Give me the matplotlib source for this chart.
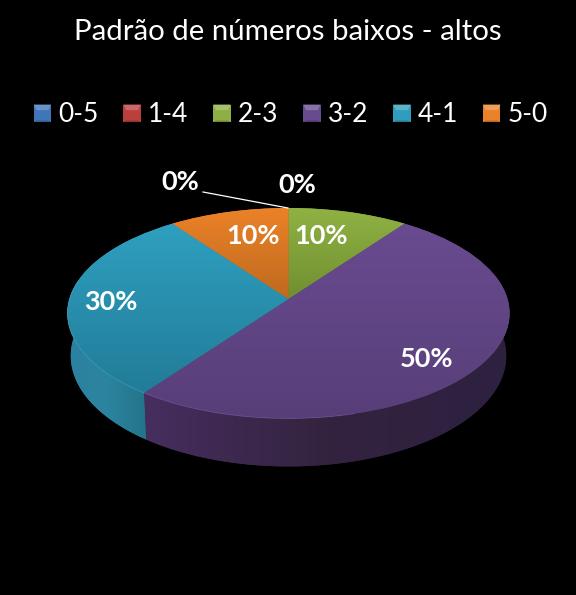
import numpy as np
import matplotlib
matplotlib.use("Agg")
import matplotlib.pyplot as plt
from matplotlib.transforms import Transform
from matplotlib.patches import Rectangle, Polygon, Patch
from matplotlib.legend_handler import HandlerBase
from matplotlib.colors import to_rgb

TITLE = "Padrão de números baixos - altos"
categories = ["0-5", "1-4", "2-3", "3-2", "4-1", "5-0"]
values = [0, 0, 10, 50, 30, 10]
colors = ["#3f76b8", "#bb3f3c", "#8fae44", "#674a8f", "#2f9dbb", "#e9822b"]

# vertical gradient of each top face (top, bottom), horizontal gradient of each side (left, mid, right)
top_grad = {2: ("#90b243", "#6f8f30"), 3: ("#694b90", "#573e78"),
            4: ("#2fa0c0", "#217c98"), 5: ("#ec8228", "#bd6a1f")}
wall_grad = {3: ("#472e5f", "#33233f", "#2d2140"), 4: ("#2b82a0", "#2b84a0", "#237388")}
label_pos = [(180, 182), (297, 185), (321, 236), (427, 359), (111, 302), (253, 236)]

FONT = "Lato"
plt.rcParams["font.family"] = FONT

fig = plt.figure(figsize=(5.76, 5.95), dpi=100, facecolor="black")
ax = fig.add_axes([0, 0, 1, 1])


class Persp(Transform):
    input_dims = output_dims = 2
    is_affine = False

    def __init__(self, level=0.0):
        super().__init__()
        self.level = level

    def transform_non_affine(self, xy):
        xy = np.asarray(xy, float)
        s = self.level
        k = 0.1353
        d = 1 + k * xy[:, 1]
        px = 288.5 + 219 * (1 - 0.015 * s) * xy[:, 0] / d
        py = (299 + 42 * s) - 103.3 * (1 + 0.05 * s) * xy[:, 1] / d
        return np.column_stack([px, py])


wedges, _ = ax.pie(values, colors=colors, startangle=90, counterclock=False,
                   wedgeprops=dict(linewidth=0))
ax.set_aspect("auto")

top_tf = Persp(0.0)
bot_tf = Persp(1.0)

# side walls, using the boundary angle between the wedges
front = wedges[4].theta2 % 360
wall_span = {3: (front, 375), 4: (140, front)}
for i, (lo, hi) in wall_span.items():
    t = np.radians(np.linspace(lo, hi, 120))
    u = np.column_stack([np.cos(t), np.sin(t)])
    verts = np.vstack([top_tf.transform_non_affine(u),
                       bot_tf.transform_non_affine(u)[::-1]])
    poly = Polygon(verts, closed=True, facecolor=wall_grad[i][1], edgecolor="none", zorder=1)
    ax.add_patch(poly)
    x0, x1 = verts[:, 0].min(), verts[:, 0].max()
    st = [to_rgb(c) for c in wall_grad[i]]
    g = np.array([[np.interp(p, [0, .5, 1], [c[j] for c in st]) for j in range(3)]
                  for p in np.linspace(0, 1, 200)])[None, :, :]
    g = np.tile(g, (8, 1, 1))
    im = ax.imshow(g, extent=(x0 - 2, x1 + 2, 500, 260), aspect="auto", zorder=1.5,
                   interpolation="nearest")
    im.set_clip_path(poly)

# top faces with vertical gradient
for i, w in enumerate(wedges):
    w.set_transform(top_tf + ax.transData)
    w.set_zorder(2)
    if i in top_grad:
        c0, c1 = map(to_rgb, top_grad[i])
        p = np.linspace(0, 1, 200)[:, None]
        g = (np.array(c0) * (1 - p) + np.array(c1) * p)[:, None, :]
        g = np.tile(g, (1, 8, 1))
        vy = w.get_transform().transform_path(w.get_path()).vertices
        inv = ax.transData.inverted().transform(vy)
        y0, y1 = inv[:, 1].min(), inv[:, 1].max()
        im = ax.imshow(g, extent=(40, 540, y1 + 1, y0 - 1), aspect="auto", zorder=2.5,
                       interpolation="nearest")
        im.set_clip_path(w)

# faint light rim along the front edge of the blue and purple faces
for rng, col in [((170, front), "#52b3cf"), ((front, 285), "#8a6cb3")]:
    t = np.radians(np.linspace(*rng, 80))
    rim = top_tf.transform_non_affine(np.column_stack([np.cos(t), np.sin(t)]))
    ax.plot(rim[:, 0], rim[:, 1], color=col, lw=0.6, alpha=0.45, zorder=3)

# leader line
ax.plot([203, 288], [192, 208], color="white", lw=0.9, zorder=4)

for v, (x, y) in zip(values, label_pos):
    ax.text(x, y, f"{v}%", color="white", fontsize=19.5, fontweight="bold",
            ha="center", va="center", zorder=5)

ax.text(288, 32, TITLE, color="white", fontsize=21.2, ha="center", va="center")


class BevelHandler(HandlerBase):
    def create_artists(self, legend, orig, xd, yd, width, height, fontsize, trans):
        c = np.array(to_rgb(orig.get_facecolor()[:3]))
        light = c + (1 - c) * 0.22
        dark = c * 0.78
        s = 12.5
        x0, y0 = (width - s) / 2 - xd, (height - s) / 2 - yd
        b = 2
        parts = [Rectangle((x0, y0), s, s, facecolor=c, edgecolor="none"),
                 Polygon([(x0, y0 + s), (x0 + s, y0 + s), (x0 + s - b, y0 + s - 4), (x0 + b, y0 + s - 4)],
                         facecolor=light, edgecolor="none"),
                 Polygon([(x0, y0), (x0 + s, y0), (x0 + s - b, y0 + 1), (x0 + b, y0 + 1)],
                         facecolor=dark, edgecolor="none")]
        for p in parts:
            p.set_transform(trans)
        return parts


handles = [Patch(facecolor=c, label=n) for c, n in zip(colors, categories)]
leg = ax.legend(handles=handles, ncol=6, loc="center", bbox_to_anchor=(290.5 / 576, 1 - 115 / 595),
                bbox_transform=fig.transFigure, frameon=False, fontsize=19, labelcolor="white",
                handler_map={Patch: BevelHandler()}, handlelength=0.7, handleheight=0.7,
                handletextpad=0.25, columnspacing=0.925, borderpad=0, borderaxespad=0)

ax.set_xlim(0, 576)
ax.set_ylim(595, 0)
ax.axis("off")
fig.savefig("out.png", dpi=100, facecolor="black")
